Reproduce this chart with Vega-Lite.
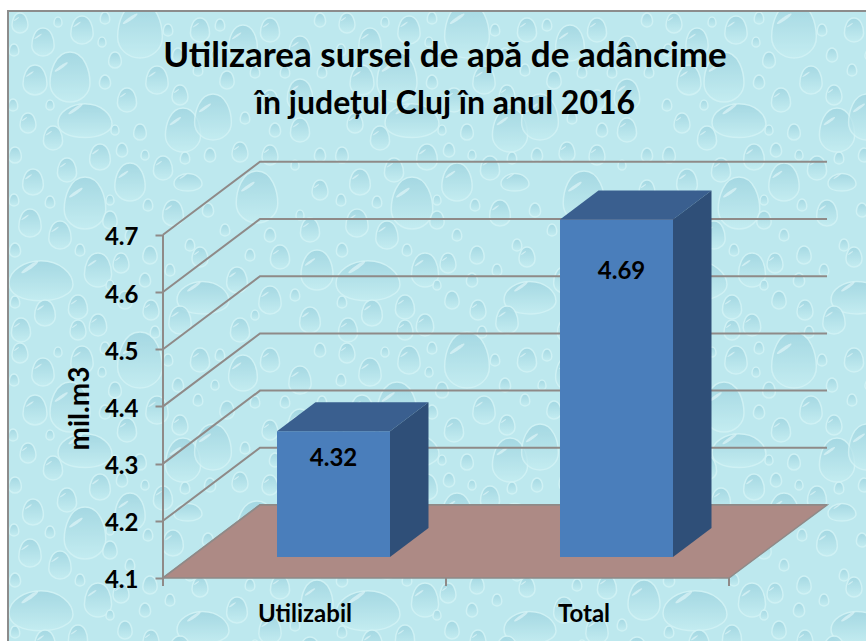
{
"$schema":"https://vega.github.io/schema/vega-lite/v6.json",
"width":866,"height":641,"autosize":"none","padding":0,"background":"white",
"view":{"stroke":null},
"title":{"text":"Utilizarea sursei de apă de adâncime","subtitle":"în județul Cluj în anul 2016","font":"Lato","fontWeight":"bold","fontSize":35,"color":"black","subtitleFont":"Lato","subtitleFontWeight":"bold","subtitleFontSize":32,"subtitleColor":"black","subtitlePadding":12,"anchor":"middle","frame":"group","dx":12,"offset":-149,"baseline":"alphabetic"},
"resolve":{"axis":{"y":"independent"}},
"datasets":{
"drops":[
{"u":0.70,"v":0.77,"r":25,"s":"egg"},{"u":0.85,"v":1.20,"r":27,"s":"wide"},{"u":1.83,"v":1.30,"r":22,"s":"egg"},{"u":2.13,"v":1.17,"r":23,"s":"egg"},{"u":0.85,"v":2.03,"r":26,"s":"egg"},{"u":1.30,"v":1.82,"r":19,"s":"egg"},{"u":2.57,"v":1.97,"r":26,"s":"egg"},{"u":1.40,"v":0.30,"r":28,"s":"egg"},{"u":2.43,"v":0.43,"r":18,"s":"egg"},{"u":0.35,"v":0.80,"r":15,"s":"egg"},
{"u":1.00,"v":1.57,"r":13,"s":"egg"},{"u":0.67,"v":1.70,"r":12,"s":"egg"},{"u":0.33,"v":1.82,"r":13,"s":"egg"},{"u":0.53,"v":1.38,"r":12,"s":"egg"},{"u":0.28,"v":1.23,"r":10,"s":"egg"},{"u":1.27,"v":1.00,"r":12,"s":"egg"},{"u":1.57,"v":0.80,"r":14,"s":"egg"},{"u":1.80,"v":0.95,"r":10,"s":"egg"},{"u":2.27,"v":0.80,"r":9,"s":"egg"},{"u":1.63,"v":1.68,"r":12,"s":"egg"},
{"u":1.88,"v":1.82,"r":14,"s":"wide"},{"u":0.30,"v":2.23,"r":14,"s":"egg"},{"u":0.60,"v":2.35,"r":14,"s":"egg"},{"u":1.73,"v":2.13,"r":13,"s":"egg"},{"u":1.40,"v":1.32,"r":8,"s":"egg"},{"u":2.40,"v":1.52,"r":10,"s":"egg"},{"u":2.70,"v":1.55,"r":10,"s":"egg"},{"u":0.82,"v":0.30,"r":14,"s":"egg"},{"u":0.43,"v":0.42,"r":14,"s":"egg"},{"u":0.20,"v":0.23,"r":10,"s":"egg"},
{"u":0.41,"v":2.80,"r":32,"s":"wide"},{"u":0.78,"v":3.07,"r":12,"s":"egg"},{"u":0.45,"v":3.13,"r":13,"s":"egg"},{"u":0.98,"v":2.70,"r":17,"s":"egg"},{"u":1.21,"v":2.63,"r":10,"s":"egg"},{"u":0.21,"v":3.30,"r":12,"s":"egg"},{"u":0.98,"v":3.25,"r":11,"s":"egg"},{"u":0.78,"v":3.30,"r":10,"s":"egg"},{"u":1.51,"v":3.10,"r":10,"s":"egg"},{"u":2.03,"v":2.97,"r":26,"s":"wide"},
{"u":3.17,"v":2.70,"r":20,"s":"egg"},{"u":2.37,"v":2.80,"r":13,"s":"egg"},{"u":2.00,"v":2.57,"r":10,"s":"egg"},{"u":2.80,"v":2.57,"r":12,"s":"egg"},{"u":3.00,"v":0.50,"r":14,"s":"egg"},{"u":3.00,"v":1.30,"r":12,"s":"egg"},{"u":3.20,"v":1.90,"r":10,"s":"egg"},{"u":3.00,"v":0.95,"r":16,"s":"egg"},{"u":2.70,"v":1.00,"r":10,"s":"egg"},{"u":3.10,"v":2.30,"r":12,"s":"egg"},
{"u":2.70,"v":3.00,"r":14,"s":"egg"},{"u":3.10,"v":3.20,"r":13,"s":"egg"},{"u":2.40,"v":3.30,"r":12,"s":"egg"},{"u":2.00,"v":0.30,"r":12,"s":"egg"},{"u":2.70,"v":0.30,"r":12,"s":"egg"},{"u":1.15,"v":0.60,"r":8,"s":"egg"},{"u":0.15,"v":1.55,"r":8,"s":"egg"},{"u":1.10,"v":2.20,"r":9,"s":"egg"},{"u":1.50,"v":2.55,"r":9,"s":"egg"},{"u":1.25,"v":3.00,"r":9,"s":"egg"},{"u":1.80,"v":3.20,"r":14,"s":"egg"},
{"u":0.14,"v":0.50,"r":6,"s":"egg"},{"u":0.58,"v":0.22,"r":5,"s":"egg"},{"u":1.05,"v":0.18,"r":6,"s":"egg"},{"u":1.02,"v":0.42,"r":5,"s":"egg"},{"u":1.05,"v":0.82,"r":7,"s":"egg"},{"u":1.68,"v":0.30,"r":6,"s":"egg"},{"u":1.78,"v":0.55,"r":7,"s":"egg"},{"u":1.98,"v":0.70,"r":6,"s":"egg"},{"u":2.20,"v":0.25,"r":6,"s":"egg"},{"u":2.15,"v":0.55,"r":5,"s":"egg"},
{"u":2.55,"v":0.72,"r":6,"s":"egg"},{"u":2.85,"v":0.72,"r":6,"s":"egg"},{"u":3.20,"v":0.20,"r":7,"s":"egg"},{"u":3.22,"v":0.72,"r":6,"s":"egg"},{"u":0.13,"v":1.05,"r":6,"s":"egg"},{"u":0.50,"v":1.05,"r":5,"s":"egg"},{"u":1.15,"v":1.30,"r":5,"s":"egg"},{"u":1.22,"v":1.50,"r":7,"s":"egg"},{"u":1.45,"v":1.55,"r":5,"s":"egg"},{"u":1.85,"v":1.58,"r":6,"s":"egg"},
{"u":2.10,"v":1.55,"r":7,"s":"egg"},{"u":2.45,"v":1.18,"r":6,"s":"egg"},{"u":2.75,"v":1.30,"r":7,"s":"egg"},{"u":3.20,"v":1.55,"r":7,"s":"egg"},{"u":2.95,"v":1.65,"r":5,"s":"egg"},{"u":0.14,"v":2.00,"r":6,"s":"egg"},{"u":0.50,"v":2.02,"r":6,"s":"egg"},{"u":1.10,"v":2.00,"r":5,"s":"egg"},{"u":1.48,"v":2.05,"r":6,"s":"egg"},{"u":2.08,"v":2.10,"r":7,"s":"egg"},
{"u":2.25,"v":2.30,"r":6,"s":"egg"},{"u":2.70,"v":2.35,"r":7,"s":"egg"},{"u":3.00,"v":2.15,"r":5,"s":"egg"},{"u":0.15,"v":2.50,"r":7,"s":"egg"},{"u":0.80,"v":2.50,"r":6,"s":"egg"},{"u":1.30,"v":2.35,"r":6,"s":"egg"},{"u":1.90,"v":2.45,"r":6,"s":"egg"},{"u":2.50,"v":2.55,"r":6,"s":"egg"},{"u":1.45,"v":2.80,"r":7,"s":"egg"},{"u":1.70,"v":2.70,"r":6,"s":"egg"},
{"u":2.95,"v":2.95,"r":6,"s":"egg"},{"u":0.15,"v":3.02,"r":6,"s":"egg"},{"u":1.10,"v":2.85,"r":5,"s":"egg"},{"u":2.55,"v":3.15,"r":5,"s":"egg"},{"u":1.55,"v":3.32,"r":6,"s":"egg"}
],
"bars":[{"category":"Utilizabil","value":4.32,"slot":0},{"category":"Total","value":4.69,"slot":1}],
"levels":[{"level":4.1},{"level":4.2},{"level":4.3},{"level":4.4},{"level":4.5},{"level":4.6},{"level":4.7}]
},
"layer":[
{"data":{"values":[{"a":0.08,"b":8.9,"c":0.11,"d":6.7}]},
 "transform":[{"calculate":"4.1+(5.78-datum.c)*100/572","as":"y1"},{"calculate":"4.1+(5.78-datum.d)*100/572","as":"y2"}],
 "mark":{"type":"rect","fill":"#bde8ee"},
 "encoding":{"x":{"field":"a","type":"quantitative","scale":{"domain":[0,8.66],"nice":false,"zero":false},"axis":null},"x2":{"field":"b"},
 "y":{"field":"y1","type":"quantitative","scale":{"domain":[3.98986,5.11049],"nice":false,"zero":false},"axis":null},
 "y2":{"field":"y2"}}},
{"data":{"name":"drops"},
 "transform":[{"calculate":"[0,1,2]","as":"ox"},{"flatten":["ox"]},{"calculate":"[0,1]","as":"oy"},{"flatten":["oy"]},
 {"calculate":"datum.u+3.27*datum.ox","as":"px"},{"calculate":"4.1+(5.78-datum.v-3.30*datum.oy)*100/572","as":"py"},{"calculate":"4*datum.r*datum.r","as":"sz"}],
 "mark":{"type":"point","filled":true,"opacity":0.75,"stroke":"#d5f4f6","strokeWidth":1.5,"fill":{"gradient":"linear","x1":0,"y1":0,"x2":0,"y2":1,"stops":[{"offset":0,"color":"#9dd3df"},{"offset":1,"color":"#c6eef2"}]}},
 "encoding":{"x":{"field":"px","type":"quantitative","axis":null},"y":{"field":"py","type":"quantitative","axis":null},
 "size":{"field":"sz","type":"quantitative","scale":null},
 "shape":{"field":"s","type":"nominal","legend":null,"scale":{"domain":["egg","wide"],"range":["M0,-1C0.6,-1 0.8,-0.2 0.8,0.25C0.8,0.7 0.4,1 0,1C-0.4,1 -0.8,0.7 -0.8,0.25C-0.8,-0.2 -0.6,-1 0,-1Z","M-1,0.1C-1,-0.3 -0.5,-0.6 0,-0.6C0.6,-0.6 1,-0.2 1,0.15C1,0.45 0.5,0.65 0,0.65C-0.6,0.65 -1,0.45 -1,0.1Z"]}}}},
{"data":{"name":"drops"},
 "transform":[{"filter":"datum.r>=10"},{"calculate":"[0,1,2]","as":"ox"},{"flatten":["ox"]},{"calculate":"[0,1]","as":"oy"},{"flatten":["oy"]},
 {"calculate":"datum.u+3.27*datum.ox-datum.r*0.0035","as":"px"},{"calculate":"4.1+(5.78-datum.v-3.30*datum.oy+datum.r*0.004)*100/572","as":"py"},{"calculate":"0.4*datum.r*datum.r","as":"sz"}],
 "mark":{"type":"point","filled":true,"fill":"#e6f9fa","opacity":0.6,"angle":-35,"stroke":null,"shape":"M-1,0C-1,-0.25 1,-0.25 1,0C1,0.25 -1,0.25 -1,0Z"},
 "encoding":{"x":{"field":"px","type":"quantitative","axis":null},"y":{"field":"py","type":"quantitative","axis":null},"size":{"field":"sz","type":"quantitative","scale":null}}},
{"data":{"values":[{"a":0,"b":0.07,"c":0,"d":6.7},{"a":0,"b":8.9,"c":0,"d":0.10}]},
 "transform":[{"calculate":"4.1+(5.78-datum.c)*100/572","as":"y1"},{"calculate":"4.1+(5.78-datum.d)*100/572","as":"y2"}],
 "mark":{"type":"rect","fill":"white"},
 "encoding":{"x":{"field":"a","type":"quantitative","axis":null},"x2":{"field":"b"},"y":{"field":"y1","type":"quantitative","axis":null},"y2":{"field":"y2"}}},
{"data":{"values":[{"a":0.08,"b":8.9,"c":0.11,"d":6.7}]},
 "transform":[{"calculate":"4.1+(5.78-datum.c)*100/572","as":"y1"},{"calculate":"4.1+(5.78-datum.d)*100/572","as":"y2"}],
 "mark":{"type":"rect","fill":null,"stroke":"#8c8c8c","strokeWidth":2},
 "encoding":{"x":{"field":"a","type":"quantitative","axis":null},"x2":{"field":"b"},"y":{"field":"y1","type":"quantitative","axis":null},"y2":{"field":"y2"}}},
{"data":{"name":"levels"},
 "transform":[{"calculate":"[[1.63,0],[2.60,1],[8.27,1]]","as":"pt"},{"flatten":["pt"]},{"calculate":"datum.pt[0]","as":"gx"},{"calculate":"datum.level+datum.pt[1]*0.1276","as":"gy"}],
 "mark":{"type":"line","color":"#8f8a88","strokeWidth":2},
 "encoding":{"x":{"field":"gx","type":"quantitative","axis":null},
 "y":{"field":"gy","type":"quantitative","axis":{"zindex":1,"values":[4.1,4.2,4.3,4.4,4.5,4.6,4.7],"offset":-163,"grid":false,"domain":false,"tickSize":8,"tickWidth":2,"tickColor":"#8f8a88","labelFont":"Lato","labelFontWeight":"bold","labelFontSize":24,"labelColor":"black","labelPadding":17,"labelOffset":3,"format":".1f","title":"mil.m3","titleFont":"Lato","titleFontWeight":"bold","titleFontSize":28,"titleColor":"black","titleX":-83,"titleY":408,"titleAngle":-90,"titleAlign":"center","titleBaseline":"middle"}},"detail":{"field":"level"}}},
{"data":{"values":[{"fx":1.63,"top":4.1,"low":4.1},{"fx":2.60,"top":4.2276,"low":4.1},{"fx":7.29,"top":4.2276,"low":4.1},{"fx":8.27,"top":4.2276,"low":4.2276}]},
 "mark":{"type":"area","orient":"vertical","fill":"#ad8a85","stroke":"#8f8a88","strokeWidth":1.5},
 "encoding":{"x":{"field":"fx","type":"quantitative","axis":null},"y":{"field":"top","type":"quantitative","axis":null,"stack":null},"y2":{"field":"low"}}},
{"data":{"values":[{"tx":1.63,"a":4.086,"b":4.7},{"tx":4.46,"a":4.086,"b":4.1},{"tx":7.29,"a":4.086,"b":4.1}]},
 "mark":{"type":"rule","color":"#8f8a88","strokeWidth":2},
 "encoding":{"x":{"field":"tx","type":"quantitative","axis":null},"y":{"field":"a","type":"quantitative","axis":null},"y2":{"field":"b"}}},
{"data":{"name":"bars"},
 "transform":[
 {"calculate":"2.77+2.83*datum.slot","as":"L"},{"calculate":"datum.L+1.13","as":"R"},{"calculate":"datum.value+0.0367","as":"T"},
 {"calculate":"[['front',datum.L,datum.T,4.1367],['front',datum.R,datum.T,4.1367],['top',datum.L,datum.T,datum.T],['top',datum.L+0.385,datum.T+0.0507,datum.T],['top',datum.R,datum.T+0.0507,datum.T],['top',datum.R+0.385,datum.T+0.0507,datum.T+0.0507],['side',datum.R,datum.T,4.1367],['side',datum.R+0.385,datum.T+0.0507,4.1874]]","as":"v"},
 {"flatten":["v"]},{"calculate":"datum.v[0]","as":"face"},{"calculate":"datum.v[1]","as":"vx"},{"calculate":"datum.v[2]","as":"vy"},{"calculate":"datum.v[3]","as":"vy2"}],
 "mark":{"type":"area","orient":"vertical"},
 "encoding":{"x":{"field":"vx","type":"quantitative","axis":null},"y":{"field":"vy","type":"quantitative","axis":null,"stack":null},"y2":{"field":"vy2"},
 "detail":{"field":"category"},
 "color":{"field":"face","type":"nominal","legend":null,"scale":{"domain":["front","top","side"],"range":["#4a7ebb","#3a5f8f","#2f4f78"]}}}},
{"data":{"name":"bars"},
 "transform":[{"calculate":"3.335+2.88*datum.slot","as":"tx"},{"calculate":"datum.value+0.0367-(datum.slot==1?0.0909:0.049)","as":"ty"},{"calculate":"format(datum.value,'.2f')","as":"lab"}],
 "mark":{"type":"text","font":"Lato","fontWeight":"bold","fontSize":24,"color":"black","baseline":"middle"},
 "encoding":{"x":{"field":"tx","type":"quantitative","axis":null},"y":{"field":"ty","type":"quantitative","axis":null},"text":{"field":"lab"}}},
{"data":{"name":"bars"},
 "transform":[{"calculate":"3.05+2.79*datum.slot","as":"tx"},{"calculate":"4.1-37/572","as":"ty"}],
 "mark":{"type":"text","font":"Lato","fontWeight":"bold","fontSize":24,"color":"black","baseline":"middle"},
 "encoding":{"x":{"field":"tx","type":"quantitative","axis":null},"y":{"field":"ty","type":"quantitative","axis":null},"text":{"field":"category"}}}
]
}
